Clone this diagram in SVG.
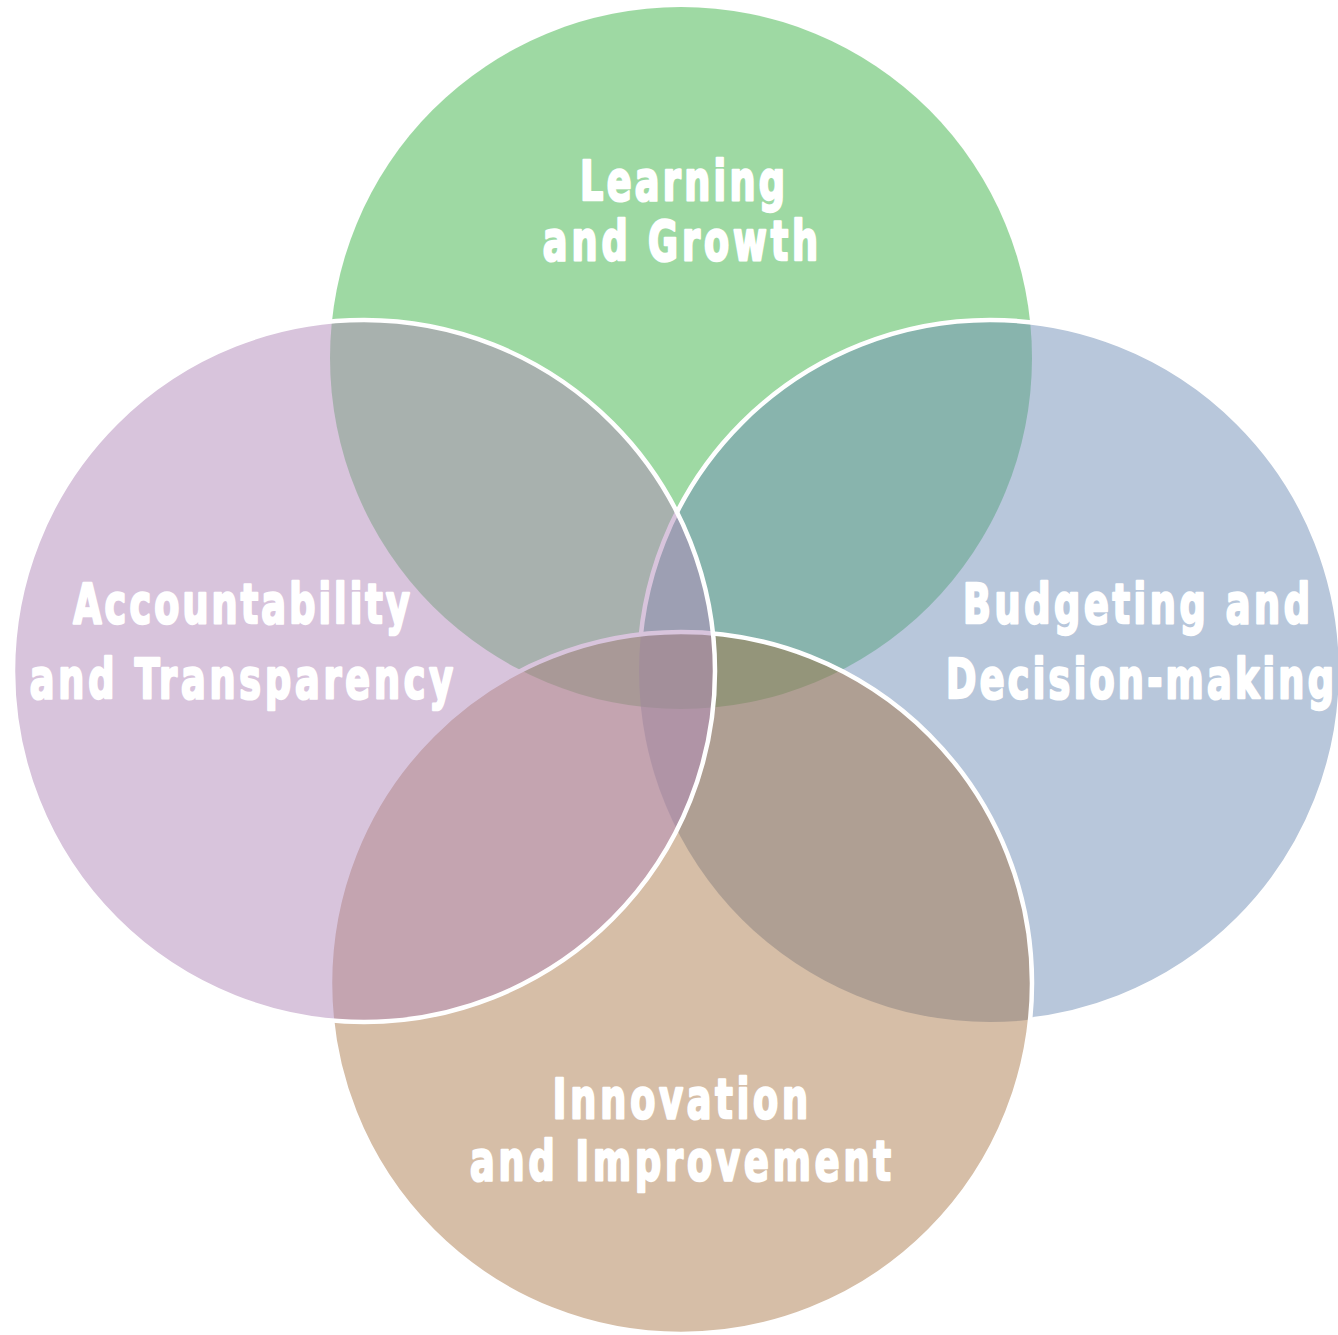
<svg xmlns="http://www.w3.org/2000/svg" width="1338" height="1335" viewBox="0 0 1338 1335">
<style>
.lbl{font-family:"DejaVu Sans Condensed","DejaVu Sans","Liberation Sans",sans-serif;font-stretch:condensed;font-weight:bold;font-size:55px;fill:#ffffff;stroke:#ffffff;stroke-width:2.4;stroke-linejoin:round;text-anchor:middle;}
.ring{fill:none;stroke:#ffffff;stroke-width:4.5;}
</style>
<defs>
<mask id="noTan">
<rect x="0" y="0" width="1338" height="1335" fill="#fff"/>
<circle cx="681" cy="983" r="351" fill="#000"/>
</mask>
</defs>
<rect x="0" y="0" width="1338" height="1335" fill="#ffffff"/>
<g id="learning">
<circle cx="681" cy="358" r="351" fill="#3db347" fill-opacity="0.5"/>
<text class="lbl" transform="translate(682.5,200) scale(0.74,1)" x="0" y="0" textLength="277" lengthAdjust="spacing">Learning</text>
<text class="lbl" transform="translate(680.5,260) scale(0.74,1)" x="0" y="0" textLength="372" lengthAdjust="spacing">and Growth</text>
</g>
<g id="budgeting">
<circle cx="990" cy="671" r="351" fill="#718fb7" fill-opacity="0.5"/>
<circle class="ring" cx="990" cy="671" r="351" mask="url(#noTan)"/>
<text class="lbl" transform="translate(1136.5,623) scale(0.74,1)" x="0" y="0" textLength="469" lengthAdjust="spacing">Budgeting and</text>
<text class="lbl" transform="translate(1140,698) scale(0.74,1)" x="0" y="0" textLength="524" lengthAdjust="spacing">Decision-making</text>
</g>
<g id="innovation">
<circle cx="681" cy="983" r="351" fill="#a46f3b" fill-opacity="0.45"/>
<circle class="ring" cx="681" cy="983" r="351"/>
<text class="lbl" transform="translate(680.5,1118) scale(0.74,1)" x="0" y="0" textLength="345" lengthAdjust="spacing">Innovation</text>
<text class="lbl" transform="translate(680.5,1180) scale(0.74,1)" x="0" y="0" textLength="569" lengthAdjust="spacing">and Improvement</text>
</g>
<g id="accountability">
<circle cx="364" cy="671" r="351" fill="#b189b9" fill-opacity="0.5"/>
<circle class="ring" cx="364" cy="671" r="351"/>
<text class="lbl" transform="translate(241.5,623) scale(0.74,1)" x="0" y="0" textLength="455" lengthAdjust="spacing">Accountability</text>
<text class="lbl" transform="translate(241.5,698) scale(0.74,1)" x="0" y="0" textLength="572" lengthAdjust="spacing">and Transparency</text>
</g>
<g id="connectors"></g>
</svg>
